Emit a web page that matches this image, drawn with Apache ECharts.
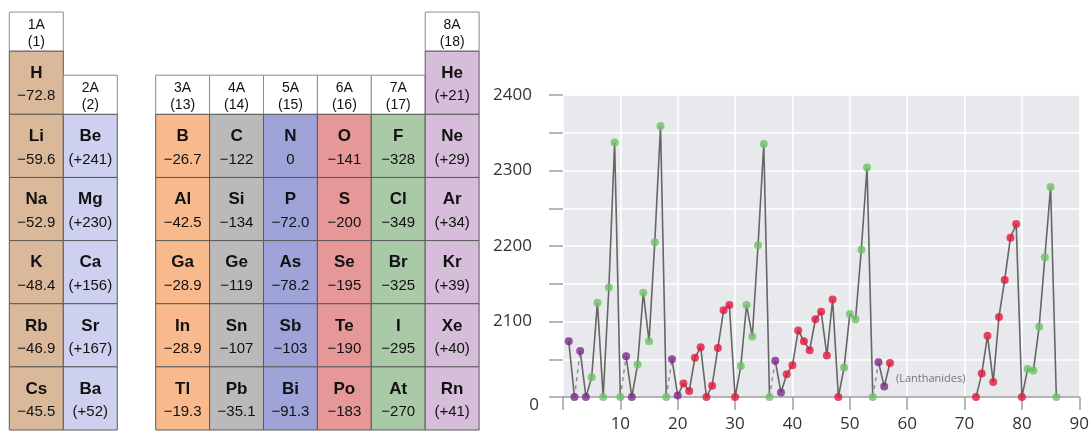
<!DOCTYPE html>
<html>
<head>
<meta charset="utf-8">
<script src="https://cdn.jsdelivr.net/npm/echarts@6/dist/echarts.min.js"></script>
<style>
html,body{margin:0;padding:0;background:#fff;}
#main{width:1092px;height:434px;}
</style>
</head>
<body>
<div id="main"></div>
<script>
// ---------- Periodic table data ----------
const leftGroups = ['1A', '2A'];
const leftGroupNumbers = ['(1)', '(2)'];
const rightGroups = ['3A', '4A', '5A', '6A', '7A', '8A'];
const rightGroupNumbers = ['(13)', '(14)', '(15)', '(16)', '(17)', '(18)'];

const g1Symbols = ['H', 'Li', 'Na', 'K', 'Rb', 'Cs'];
const g1Values = ['\u221272.8', '\u221259.6', '\u221252.9', '\u221248.4', '\u221246.9', '\u221245.5'];
const g2Symbols = ['Be', 'Mg', 'Ca', 'Sr', 'Ba'];
const g2Values = ['(+241)', '(+230)', '(+156)', '(+167)', '(+52)'];
const g13Symbols = ['B', 'Al', 'Ga', 'In', 'Tl'];
const g13Values = ['\u221226.7', '\u221242.5', '\u221228.9', '\u221228.9', '\u221219.3'];
const g14Symbols = ['C', 'Si', 'Ge', 'Sn', 'Pb'];
const g14Values = ['\u2212122', '\u2212134', '\u2212119', '\u2212107', '\u221235.1'];
const g15Symbols = ['N', 'P', 'As', 'Sb', 'Bi'];
const g15Values = ['0', '\u221272.0', '\u221278.2', '\u2212103', '\u221291.3'];
const g16Symbols = ['O', 'S', 'Se', 'Te', 'Po'];
const g16Values = ['\u2212141', '\u2212200', '\u2212195', '\u2212190', '\u2212183'];
const g17Symbols = ['F', 'Cl', 'Br', 'I', 'At'];
const g17Values = ['\u2212328', '\u2212349', '\u2212325', '\u2212295', '\u2212270'];
const g18Symbols = ['He', 'Ne', 'Ar', 'Kr', 'Xe', 'Rn'];
const g18Values = ['(+21)', '(+29)', '(+34)', '(+39)', '(+40)', '(+41)'];

// ---------- Line chart data ----------
const atomicNumbers = [
  1, 2, 3, 4, 5, 6, 7, 8, 9, 10,
  11, 12, 13, 14, 15, 16, 17, 18, 19, 20,
  21, 22, 23, 24, 25, 26, 27, 28, 29, 30,
  31, 32, 33, 34, 35, 36, 37, 38, 39, 40,
  41, 42, 43, 44, 45, 46, 47, 48, 49, 50,
  51, 52, 53, 54, 55, 56, 57,
  72, 73, 74, 75, 76, 77, 78, 79, 80,
  81, 82, 83, 84, 85, 86
];
const plotValues = [
  2074, 2000, 2061, 2000, 2026, 2125, 2000, 2145, 2337, 2000,
  2054, 2000, 2043, 2138, 2074, 2205, 2359, 2000, 2050, 2002,
  2018, 2008, 2052, 2066, 2000, 2015, 2065, 2115, 2122, 2000,
  2041, 2122, 2080, 2201, 2335, 2000, 2048, 2006, 2030, 2042,
  2088, 2074, 2062, 2103, 2113, 2055, 2129, 2000, 2039, 2110,
  2103, 2195, 2304, 2000, 2046, 2014, 2045,
  2000, 2031, 2081, 2020, 2106, 2155, 2211, 2229, 2000,
  2037, 2035, 2093, 2185, 2278, 2000
];
const blocks = [
  's','s','s','s','p','p','p','p','p','p',
  's','s','p','p','p','p','p','p','s','s',
  'd','d','d','d','d','d','d','d','d','d',
  'p','p','p','p','p','p','s','s','d','d',
  'd','d','d','d','d','d','d','d','p','p',
  'p','p','p','p','s','s','d',
  'd','d','d','d','d','d','d','d','d',
  'p','p','p','p','p','p'
];
const dashedAfter = [2, 10, 18, 36, 54];
const xTicks = [0, 10, 20, 30, 40, 50, 60, 70, 80, 90];
const xTickLabels = { 10: '10', 20: '20', 30: '30', 40: '40', 50: '50', 60: '60', 70: '70', 80: '80', 90: '90' };
const yTickLabels = { 2000: '0', 2100: '2100', 2200: '2200', 2300: '2300', 2400: '2400' };
const lanthanideNote = '(Lanthanides)';

// ---------- Styles ----------
const blockColors = { s: '#7b2b8b', p: '#6fc067', d: '#e2183f' };
const leftFills = ['#dab99b', '#ced0f0'];
const rightFills = ['#f8b98c', '#bababa', '#9ea3d8', '#e69797', '#a9c9a7', '#d6bdd9'];
const tableFont = '"Liberation Sans", Arial, sans-serif';
const chartFont = '"Open Sans", "Noto Sans", sans-serif';

function buildCells(groupSymbols, groupValues, groupNames, groupNums) {
  const cells = [];
  groupSymbols.forEach((syms, col) => {
    const start = 6 - syms.length; // top of first cell (in period units)
    cells.push({ kind: 'header', col: col, top: start - 0.62, h: 0.62,
                 line1: groupNames[col], line2: groupNums[col] });
    syms.forEach((s, i) => {
      cells.push({ kind: 'cell', col: col, top: start + i, h: 1,
                   line1: s, line2: groupValues[col][i] });
    });
  });
  return cells;
}

const leftCells = buildCells([g1Symbols, g2Symbols], [g1Values, g2Values], leftGroups, leftGroupNumbers);
const rightCells = buildCells(
  [g13Symbols, g14Symbols, g15Symbols, g16Symbols, g17Symbols, g18Symbols],
  [g13Values, g14Values, g15Values, g16Values, g17Values, g18Values],
  rightGroups, rightGroupNumbers);

function makeRender(cells, fills) {
  return function (params, api) {
    const c = cells[params.dataIndex];
    const center = api.coord([api.value(0), api.value(1)]);
    const size = api.size([1, 1]);
    const w = size[0];
    const unit = size[1];
    const x = center[0] - w / 2;
    const y = center[1];
    const h = c.h * unit;
    if (c.kind === 'header') {
      return {
        type: 'group',
        children: [
          { type: 'rect', shape: { x: x, y: y, width: w, height: h },
            style: { fill: '#ffffff', stroke: '#8c8c8c', lineWidth: 1 } },
          { type: 'text', style: { text: c.line1, x: center[0], y: y + h * 0.33,
            align: 'center', verticalAlign: 'middle', fill: '#111',
            font: '14px ' + tableFont } },
          { type: 'text', style: { text: c.line2, x: center[0], y: y + h * 0.77,
            align: 'center', verticalAlign: 'middle', fill: '#111',
            font: '14px ' + tableFont } }
        ]
      };
    }
    return {
      type: 'group',
      children: [
        { type: 'rect', shape: { x: x, y: y, width: w, height: h },
          style: { fill: fills[c.col], stroke: '#5a5a5a', lineWidth: 1 } },
        { type: 'text', style: { text: c.line1, x: center[0], y: y + h * 0.35,
          align: 'center', verticalAlign: 'middle', fill: '#111',
          font: 'bold 17px ' + tableFont } },
        { type: 'text', style: { text: c.line2, x: center[0], y: y + h * 0.715,
          align: 'center', verticalAlign: 'middle', fill: '#111',
          font: '15px ' + tableFont } }
      ]
    };
  };
}

// ---------- Line segments ----------
const solidSegments = [];
const dashedSegments = [];
let current = [[atomicNumbers[0], plotValues[0]]];
for (let i = 1; i < atomicNumbers.length; i++) {
  const pz = atomicNumbers[i - 1], z = atomicNumbers[i];
  const pt = [z, plotValues[i]];
  if (z !== pz + 1) {
    solidSegments.push(current);
    current = [pt];
  } else if (dashedAfter.indexOf(pz) >= 0) {
    solidSegments.push(current);
    dashedSegments.push([[pz, plotValues[i - 1]], pt]);
    current = [pt];
  } else {
    current.push(pt);
  }
}
solidSegments.push(current);

const lineSeries = [];
solidSegments.forEach(seg => {
  if (seg.length < 2) return;
  lineSeries.push({
    type: 'line', xAxisIndex: 2, yAxisIndex: 2, data: seg,
    showSymbol: false, silent: true, z: 2,
    lineStyle: { color: '#666666', width: 1.6 }
  });
});
dashedSegments.forEach(seg => {
  lineSeries.push({
    type: 'line', xAxisIndex: 2, yAxisIndex: 2, data: seg,
    showSymbol: false, silent: true, z: 2,
    lineStyle: { color: '#8a8a8a', width: 1.4, type: [4, 4] }
  });
});

const scatterData = atomicNumbers.map((z, i) => {
  const item = { value: [z, plotValues[i]], itemStyle: { color: blockColors[blocks[i]] } };
  if (z === 57) {
    item.label = {
      show: true, formatter: lanthanideNote, position: 'right', distance: 2,
      offset: [0, 16], color: '#555', fontSize: 11, fontFamily: chartFont
    };
  }
  return item;
});

const chart = echarts.init(document.getElementById('main'), null, { renderer: 'canvas' });
chart.setOption({
  animation: false,
  backgroundColor: '#ffffff',
  grid: [
    { left: 9.3, top: 7, width: 108, bottom: 4 },
    { left: 155.7, top: 7, width: 323.4, bottom: 4 },
    { left: 563, top: 95, right: 11, bottom: 37, show: true, backgroundColor: '#e8e9ec', borderWidth: 0 }
  ],
  xAxis: [
    { gridIndex: 0, type: 'category', data: leftGroups, show: false },
    { gridIndex: 1, type: 'category', data: rightGroups, show: false },
    { gridIndex: 2, type: 'value', min: xTicks[0], max: xTicks[xTicks.length - 1], interval: 10,
      axisLine: { show: true, lineStyle: { color: '#9c9c9c', width: 1.5 } },
      axisTick: { show: true, length: 13, lineStyle: { color: '#a0a0a0', width: 1.5 } },
      axisLabel: { margin: 19, color: '#333', fontSize: 17, fontFamily: chartFont,
        formatter: function (v) { return xTickLabels[v] || ''; } },
      splitLine: { show: true, lineStyle: { color: '#ffffff', width: 1.5 } }
    }
  ],
  yAxis: [
    { gridIndex: 0, type: 'value', inverse: true, min: -0.7, max: 6, show: false },
    { gridIndex: 1, type: 'value', inverse: true, min: -0.7, max: 6, show: false },
    { gridIndex: 2, type: 'value', min: 2000, max: 2400, interval: 50,
      axisLine: { show: false },
      axisTick: { show: true, length: 14, lineStyle: { color: '#a0a0a0', width: 1.5 } },
      axisLabel: {
        margin: 24, color: '#333', fontSize: 17, fontFamily: chartFont,
        formatter: function (v) {
          const t = yTickLabels[v];
          if (t === undefined) return '';
          return v === 2000 ? '{z|' + t + '}' : '{n|' + t + '}';
        },
        rich: {
          z: { padding: [16, 0, 0, 0], fontSize: 17, color: '#333', fontFamily: chartFont },
          n: { padding: [0, 7, 0, 0], fontSize: 17, color: '#333', fontFamily: chartFont }
        }
      },
      splitLine: { show: true, lineStyle: { color: '#ffffff', width: 1.5 } }
    }
  ],
  series: [
    { type: 'custom', xAxisIndex: 0, yAxisIndex: 0, renderItem: makeRender(leftCells, leftFills),
      data: leftCells.map(c => [c.col, c.top]), silent: true },
    { type: 'custom', xAxisIndex: 1, yAxisIndex: 1, renderItem: makeRender(rightCells, rightFills),
      data: rightCells.map(c => [c.col, c.top]), silent: true },
    ...lineSeries,
    { type: 'scatter', xAxisIndex: 2, yAxisIndex: 2, data: scatterData,
      symbolSize: 8, z: 5, silent: true }
  ]
});
</script>
</body>
</html>
